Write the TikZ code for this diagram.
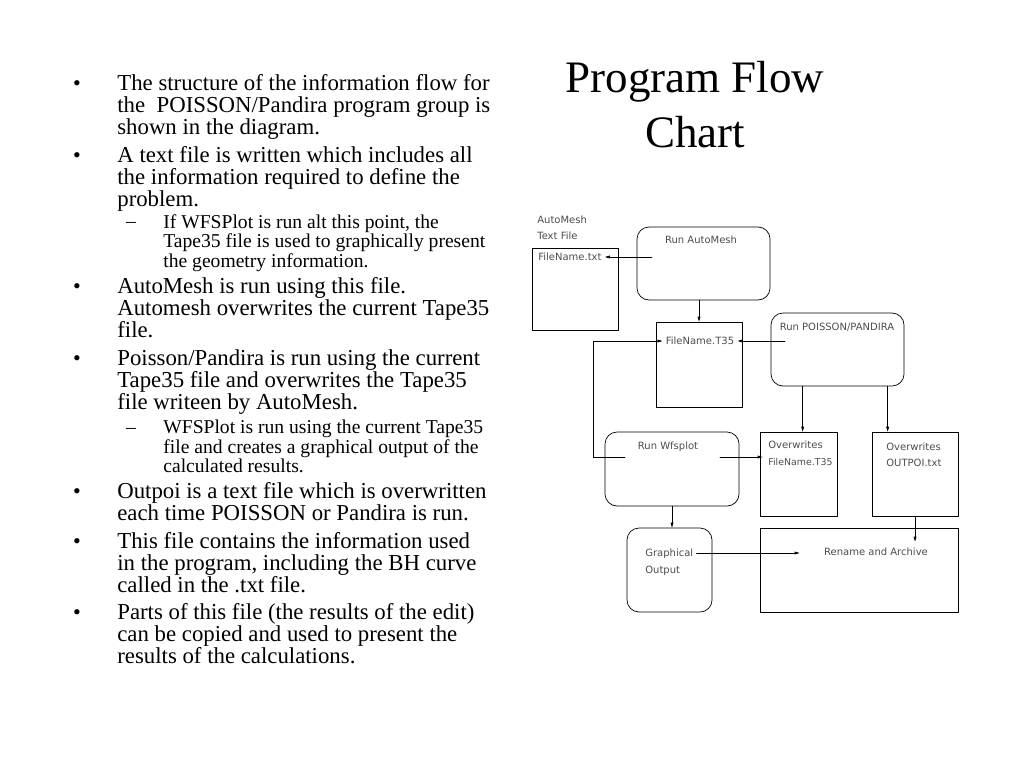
\documentclass[tikz,border=0pt]{standalone}
\usepackage{fontspec}
\setmainfont{Liberation Serif}
\newfontfamily\cadfont{DejaVu Sans}
\usetikzlibrary{arrows.meta}

\tikzset{
  filebox/.style={draw, inner sep=0pt},
  runbox/.style={draw, rounded corners=12, inner sep=0pt},
  cadlbl/.style={font=\cadfont\fontsize{10}{12}\selectfont, text=black!70,
    inner xsep=3pt, inner ysep=1pt, text height=7.3pt, text depth=0pt},
  itemtext/.style={font=\fontsize{22.8}{22}\selectfont, align=left,
    anchor=north west, inner sep=0pt},
  subtext/.style={font=\fontsize{19.6}{19.5}\selectfont, align=left,
    anchor=north west, inner sep=0pt},
  itemdot/.style={font=\fontsize{22}{22}\selectfont, inner sep=0pt, anchor=base},
  subdash/.style={font=\fontsize{19.6}{20}\selectfont, inner sep=0pt, anchor=base},
  titletext/.style={font=\fontsize{45}{53}\selectfont, anchor=base, inner sep=0pt},
}

\begin{document}
\begin{tikzpicture}[line cap=round,line join=round,x=1pt,y=-1pt,
  >={Triangle[length=5pt,width=2.8pt]}, line width=0.7pt]
\useasboundingbox (0,0) rectangle (1024,768);

% title
\node[titletext] (title1) at (695,92) {Program Flow};
\node[titletext] (title2) at (695,147) {Chart};

% bullet list
\node[itemdot] (d1) at (77,90) {\textbullet};
\node[itemtext] (b1) at (117,74.5) {The structure of the information flow for\\the\ \ POISSON/Pandira program group is\\shown in the diagram.};
\node[itemdot] (d2) at (77,162) {\textbullet};
\node[itemtext] (b2) at (117,146.5) {A text file is written which includes all\\the information required to define the\\problem.};
\node[subdash] (s1dash) at (131,227) {--};
\node[subtext] (s1) at (163,214) {If WFSPlot is run alt this point, the\\Tape35 file is used to graphically present\\the geometry information.};
\node[itemdot] (d3) at (77,293) {\textbullet};
\node[itemtext] (b3) at (117,277.5) {AutoMesh is run using this file.\\Automesh overwrites the current Tape35\\file.};
\node[itemdot] (d4) at (77,365) {\textbullet};
\node[itemtext] (b4) at (117,349.5) {Poisson/Pandira is run using the current\\Tape35 file and overwrites the Tape35\\file writeen by AutoMesh.};
\node[subdash] (s2dash) at (131,433) {--};
\node[subtext] (s2) at (163,419.7) {WFSPlot is run using the current Tape35\\file and creates a graphical output of the\\calculated results.};
\node[itemdot] (d5) at (77,498) {\textbullet};
\node[itemtext] (b5) at (117,482.5) {Outpoi is a text file which is overwritten\\each time POISSON or Pandira is run.};
\node[itemdot] (d6) at (77,548) {\textbullet};
\node[itemtext] (b6) at (117,532.5) {This file contains the information used\\in the program, including the BH curve\\called in the .txt file.};
\node[itemdot] (d7) at (77,619) {\textbullet};
\node[itemtext] (b7) at (117,603.5) {Parts of this file (the results of the edit)\\can be copied and used to present the\\results of the calculations.};

% boxes
\node[filebox, minimum width=86, minimum height=82] (txtbox) at (575,289) {};
\node[runbox, minimum width=133, minimum height=73] (runauto) at (703.5,263.5) {};
\node[filebox, minimum width=86, minimum height=85] (t35box) at (699,364.5) {};
\node[runbox, minimum width=133, minimum height=73] (runpois) at (837.5,349.5) {};
\node[runbox, minimum width=134, minimum height=74] (runwfs) at (672,469) {};
\node[filebox, minimum width=77, minimum height=84] (ow1) at (798.5,474) {};
\node[filebox, minimum width=86, minimum height=84] (ow2) at (915,474) {};
\node[runbox, minimum width=85, minimum height=84] (graph) at (669.5,570) {};
\node[filebox, minimum width=198, minimum height=84] (rename) at (859,570) {};

% labels
\node[cadlbl, anchor=west] (automeshlbl) at (534,220) {AutoMesh};
\node[cadlbl, anchor=west] (textfilelbl) at (534,236) {Text File};
\node[cadlbl, anchor=west] (txtlbl) at (535,257) {FileName.txt};
\node[cadlbl] (runautolbl) at (701,240) {Run AutoMesh};
\node[cadlbl] (t35lbl) at (700,341) {FileName.T35};
\node[cadlbl] (runpoislbl) at (837,327) {Run POISSON/PANDIRA};
\node[cadlbl] (runwfslbl) at (668,446) {Run Wfsplot};
\node[cadlbl, anchor=west] (ow1lbl1) at (765,445) {Overwrites};
\node[cadlbl, anchor=west, font=\cadfont\fontsize{9.4}{12}\selectfont] (ow1lbl2) at (765,462) {FileName.T35};
\node[cadlbl, anchor=west] (ow2lbl1) at (883,447) {Overwrites};
\node[cadlbl, anchor=west] (ow2lbl2) at (883,463) {OUTPOI.txt};
\node[cadlbl, anchor=west] (graphlbl1) at (642,553) {Graphical};
\node[cadlbl, anchor=west] (graphlbl2) at (642,570) {Output};
\node[cadlbl] (renamelbl) at (876,552) {Rename and Archive};

% connectors
\coordinate (autoout) at (652,257);
\coordinate (poisout) at (785,341);
\coordinate (wfsout) at (625,457);
\coordinate (loopcorner) at (593,457);
\coordinate (wfsright) at (720,457);
\draw[->] (autoout) -- (txtlbl.east);
\draw[->] (runauto.south -| t35box.north) -- (t35box.north);
\draw[->] (poisout) -- (t35lbl.east);
\draw[->] (wfsout) -- (loopcorner) |- (t35lbl.west);
\draw[->] (wfsright) -- ([xshift=3pt]wfsright -| ow1.west);
\draw[->] ([xshift=32pt]runpois.south west) -- ([xshift=32pt]runpois.south west |- ow1.north);
\draw[->] ([xshift=117pt]runpois.south west) -- ([xshift=117pt]runpois.south west |- ow2.north);
\draw[->] (runwfs.south) -- (runwfs.south |- graph.north);
\draw[->] (graphlbl1.east) -- ([xshift=40pt]rename.west |- graphlbl1.east);
\draw[->] (ow2.south) -- ([yshift=-14pt]ow2.south |- rename.north);
\end{tikzpicture}
\end{document}
